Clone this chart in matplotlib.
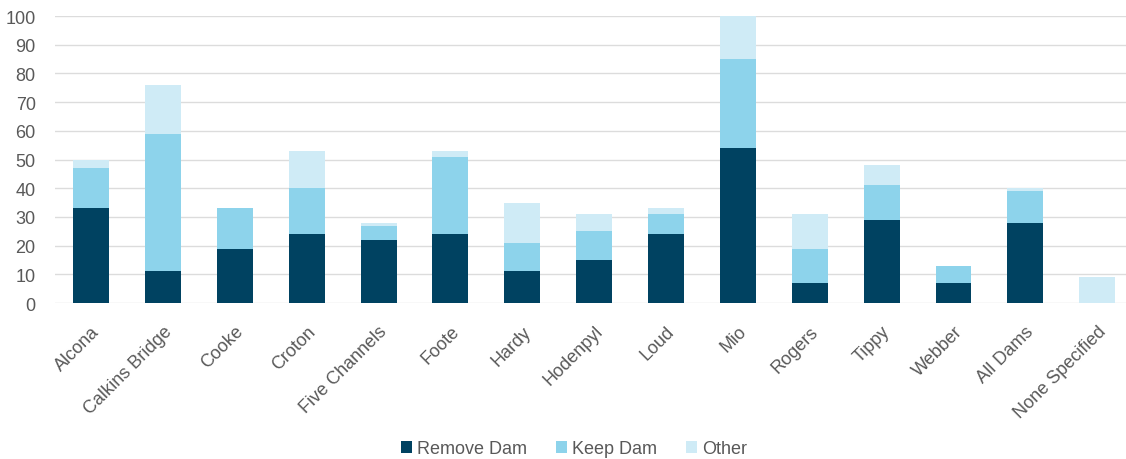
import matplotlib.pyplot as plt
import numpy as np

plt.rcParams['font.family'] = ['Liberation Sans', 'DejaVu Sans']

# Data
dams = ["Alcona", "Calkins Bridge", "Cooke", "Croton", "Five Channels", "Foote",
        "Hardy", "Hodenpyl", "Loud", "Mio", "Rogers", "Tippy", "Webber",
        "All Dams", "None Specified"]
remove_dam = [33, 11, 19, 24, 22, 24, 11, 15, 24, 54, 7, 29, 7, 28, 0]
keep_dam = [14, 48, 14, 16, 5, 27, 10, 10, 7, 31, 12, 12, 6, 11, 0]
other = [3, 17, 0, 13, 1, 2, 14, 6, 2, 15, 12, 7, 0, 1, 9]

colors = ["#004261", "#8dd3eb", "#cfebf6"]

fig = plt.figure(figsize=(11.26, 4.6), dpi=100)
ax = fig.add_axes([0.049, 0.339, 0.951, 0.624])

x = np.arange(len(dams))
w = 0.5
remove_dam = np.array(remove_dam)
keep_dam = np.array(keep_dam)
other = np.array(other)

ax.bar(x, remove_dam, w, color=colors[0], label="Remove Dam", zorder=3)
ax.bar(x, keep_dam, w, bottom=remove_dam, color=colors[1], label="Keep Dam", zorder=3)
ax.bar(x, other, w, bottom=remove_dam + keep_dam, color=colors[2], label="Other", zorder=3)

ax.set_xlim(-0.5, 14.4)
ax.set_ylim(0, 100)
ax.set_yticks(range(0, 101, 10))
ax.yaxis.grid(True, color="#dcdcdc", linewidth=1, zorder=0)
for s in ax.spines.values():
    s.set_visible(False)
ax.tick_params(axis="both", length=0, labelsize=13, colors="#595959")
ax.tick_params(axis="y", pad=14)
ax.tick_params(axis="x", pad=14)
ax.set_xticks(x)
ax.set_xticklabels(dams, rotation=45, ha="right", rotation_mode="anchor")

fig.legend(loc="center", bbox_to_anchor=(0.51, 0.022), ncol=3, frameon=False,
           fontsize=13, handlelength=0.6, handleheight=0.6, handletextpad=0.3,
           columnspacing=1.6, labelcolor="#595959")

fig.savefig("out.png", dpi=100, facecolor="white")
